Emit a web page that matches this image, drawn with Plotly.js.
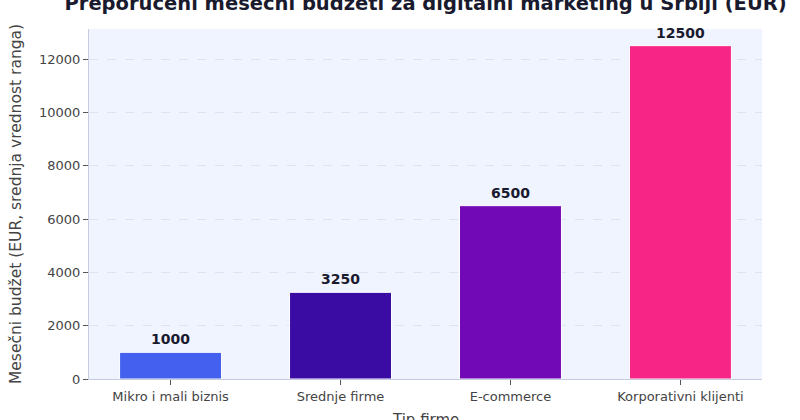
<!DOCTYPE html>
<html>
<head>
<meta charset="utf-8">
<script src="https://cdn.plot.ly/plotly-3.0.1.min.js"></script>
<style>
  html, body { margin: 0; padding: 0; background: #fff; }
  #graph { width: 800px; height: 420px; }
</style>
</head>
<body>
<div id="graph"></div>
<script>
// Budzeti po tipu firme (srednja vrednost ranga, EUR)
const categories = ['Mikro i mali biznis', 'Srednje firme', 'E-commerce', 'Korporativni klijenti'];
const budgets = [1000, 3250, 6500, 12500];
const barColors = ['#4361EE', '#3A0CA3', '#7209B7', '#F72585'];
const yTicks = [0, 2000, 4000, 6000, 8000, 10000, 12000];

const font = 'DejaVu Sans, sans-serif';

const trace = {
    type: 'bar',
    x: categories,
    y: budgets,
    width: 0.6,
    marker: {
        color: barColors,
        line: {color: '#ffffff', width: 1}
    },
    hoverinfo: 'x+y'
};

// value labels above each bar
const labels = categories.map(function (c, i) {
    return {
        x: c,
        y: budgets[i],
        text: '<b>' + budgets[i] + '</b>',
        showarrow: false,
        yanchor: 'bottom',
        yshift: 3,
        font: {family: font, size: 14, color: '#1a1a2e'}
    };
});

// x axis title sits partly below the bottom edge, as in the original
labels.push({
    xref: 'paper',
    yref: 'paper',
    x: 0.5,
    y: -0.117,
    xanchor: 'center',
    yanchor: 'middle',
    text: 'Tip firme',
    showarrow: false,
    font: {family: font, size: 15, color: '#444'}
});

const layout = {
    width: 800,
    height: 420,
    paper_bgcolor: '#ffffff',
    plot_bgcolor: '#F0F4FF',
    margin: {l: 89, r: 38, t: 29, b: 41},
    showlegend: false,
    title: {
        text: '<b>Preporučeni mesečni budžeti za digitalni marketing u Srbiji (EUR)</b>',
        font: {family: font, size: 19.5, color: '#1a1a2e'},
        x: 0.532,
        xanchor: 'center',
        y: 1,
        yanchor: 'top',
        pad: {t: -4}
    },
    xaxis: {
        range: [-0.48, 3.48],
        showline: true,
        linecolor: '#C5CCE0',
        linewidth: 1,
        ticks: 'outside',
        ticklen: 5,
        tickcolor: '#555',
        tickfont: {family: font, size: 13, color: '#444'},
        showgrid: false
    },
    yaxis: {
        range: [0, 13125],
        tickvals: yTicks,
        ticktext: yTicks.map(String),
        showline: true,
        linecolor: '#C5CCE0',
        linewidth: 1,
        ticks: 'outside',
        ticklen: 5,
        tickcolor: '#555',
        tickfont: {family: font, size: 13, color: '#444'},
        showgrid: true,
        gridcolor: '#DDE3F2',
        griddash: 'dash',
        gridwidth: 1,
        zeroline: false,
        title: {
            text: 'Mesečni budžet (EUR, srednja vrednost ranga)',
            font: {family: font, size: 15.5, color: '#444'},
            standoff: 13
        }
    },
    annotations: labels,
    bargap: 0.4
};

Plotly.newPlot('graph', [trace], layout, {displayModeBar: false, staticPlot: true});
</script>
</body>
</html>
